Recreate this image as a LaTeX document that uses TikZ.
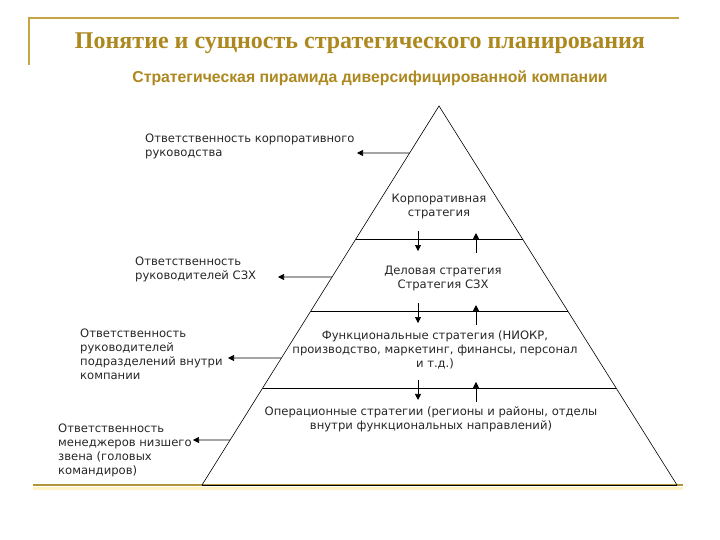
\documentclass[tikz,border=0pt]{standalone}
\usepackage{fontspec}
\setmainfont{Liberation Serif}
\newfontfamily\subfont{Liberation Sans}
\newfontfamily\labelfont{DejaVu Sans}
\usepackage{tikz}
\usetikzlibrary{positioning, calc, arrows.meta}
\definecolor{cT}{RGB}{172,136,30}
\definecolor{cF}{RGB}{196,166,66}
\definecolor{cG}{RGB}{255,242,196}

\begin{document}
\begin{tikzpicture}[x=1pt, y=-1pt,
    tip/.style={-{Triangle[length=6pt,width=6pt]}, line width=0.7pt},
    resp/.style={anchor=west, align=left, inner sep=2pt, font=\labelfont\fontsize{11.6}{14}\selectfont, text=black!85},
    level/.style={align=center, inner sep=1pt, font=\labelfont\fontsize{11.6}{14}\selectfont, text=black!85}]
    \useasboundingbox (0,0) rectangle (720,540);

    % frame and headings
    \draw[cF, line width=1.8pt] (29,65) -- (29,18) -- (679,18);
    \node[text=cT, font=\bfseries\fontsize{24}{27}\selectfont] (title) at (360,43) {Понятие и сущность стратегического планирования};
    \node[text=cT, font=\subfont\bfseries\fontsize{15.8}{18}\selectfont] (subtitle) at (370,78) {Стратегическая пирамида диверсифицированной компании};
    \draw[cG, line width=3pt] (33,488) -- (683,488);
    \draw[cF!90!black, line width=1.8pt] (33,485) -- (683,485);

    % pyramid
    \coordinate (apex) at (439,106);
    \coordinate (bl) at (202,485);
    \coordinate (br) at (677,485);
    \draw[line width=0.6pt] (bl) -- (apex) -- (br);
    \draw[line width=1pt] (bl) -- (br);
    \foreach \t/\n in {0.351/a, 0.541/b, 0.744/c}{
        \coordinate (l\n) at ($(apex)!\t!(bl)$);
        \coordinate (r\n) at ($(apex)!\t!(br)$);
        \draw[line width=0.9pt] (l\n) -- (r\n);
    }

    % levels
    \node[level] (corp) at (439,206.5) {Корпоративная\\стратегия};
    \node[level] (bus) at (443,278.5) {Деловая стратегия\\Стратегия СЗХ};
    \node[level] (func) at (435,349.5) {Функциональные стратегия (НИОКР,\\производство, маркетинг, финансы, персонал\\и т.д.)};
    \node[level] (oper) at (431,419) {Операционные стратегии (регионы и районы, отделы\\внутри функциональных направлений)};

    % links between levels
    \foreach \n in {a, b, c}{
        \coordinate (d1\n) at ($(l\n)+(0,-8)$);
        \draw[tip] (d1\n -| 418,0) -- ++(0,20);
        \draw[tip] ($(l\n -| 476,0)+(0,14)$) -- ++(0,-20);
    }

    % responsibility
    \node[resp] (resp1) at (143,146.5) {Ответственность корпоративного\\руководства};
    \node[resp] (resp2) at (133,269.5) {Ответственность\\руководителей СЗХ};
    \node[resp] (resp3) at (78,354.5) {Ответственность\\руководителей\\подразделений внутри\\компании};
    \node[resp] (resp4) at (56,450) {Ответственность\\менеджеров низшего\\звена (головых\\командиров)};

    \coordinate (e1) at ($(apex)!0.124!(bl)$);
    \coordinate (e2) at ($(apex)!0.451!(bl)$);
    \coordinate (e3) at ($(apex)!0.665!(bl)$);
    \coordinate (e4) at ($(apex)!0.881!(bl)$);
    \draw[tip] (e1) -- (357,153);
    \draw[tip] (e2) -- (278,277);
    \draw[tip] (e3) -- (228,358);
    \draw[tip] (e4) -- (193,440);
\end{tikzpicture}
\end{document}
